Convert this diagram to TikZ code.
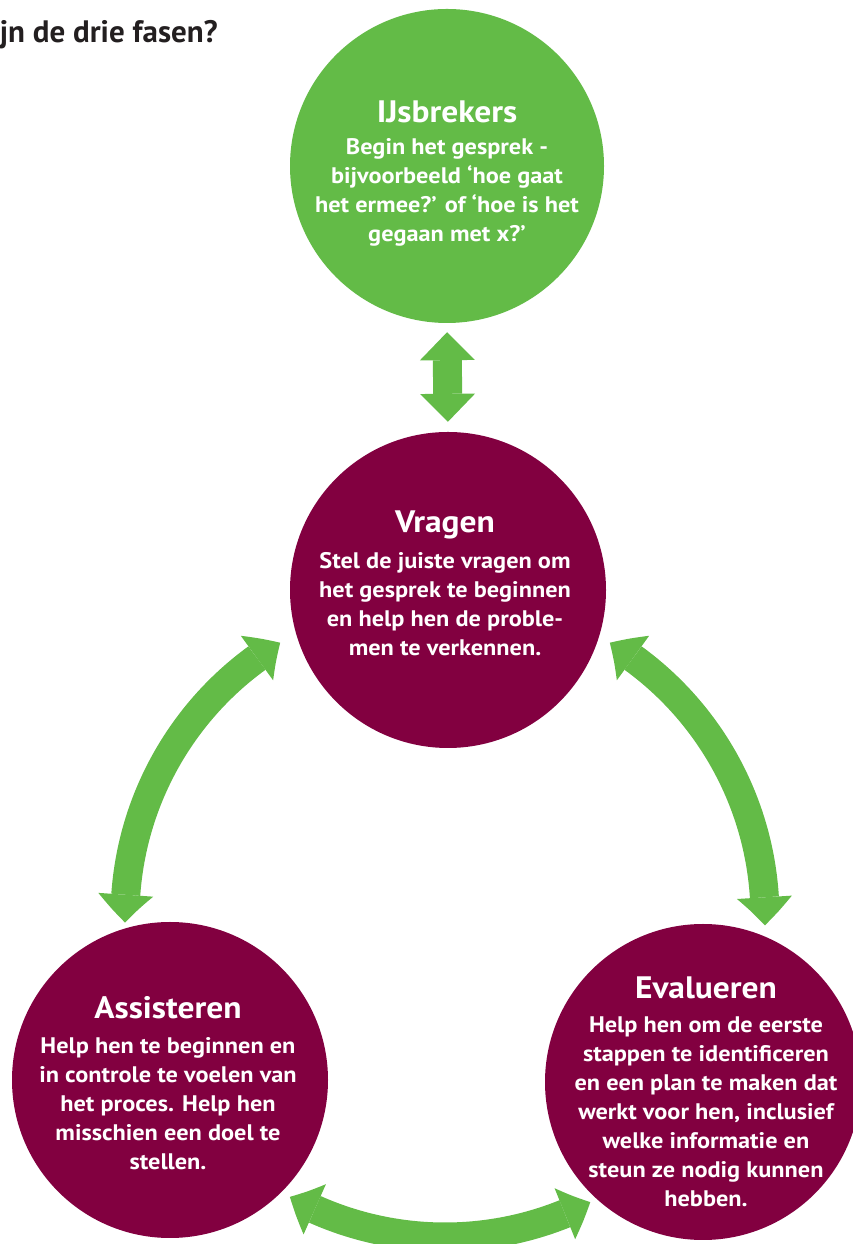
\documentclass[tikz,border=0pt]{standalone}
\usepackage{fontspec}
\setmainfont[FakeStretch=1.08]{PT Sans}
\newfontfamily\hdfont{PT Sans}
\usetikzlibrary{arrows.meta,bending}
\definecolor{grn}{HTML}{63BB47}
\definecolor{mar}{HTML}{820040}
\definecolor{hdr}{HTML}{231F20}
\tikzset{
  disc/.style={circle, inner sep=0pt, minimum size=316pt},
  greendisc/.style={disc, fill=grn},
  redisc/.style={disc, fill=mar},
  ttl/.style={text=white, font=\fontsize{31}{36}\selectfont\bfseries},
  bdy/.style={text=white, align=center, font=\fontsize{22.5}{29}\selectfont\bfseries},
  bigarrow/.style={draw=grn, line width=29pt, {Triangle[width=55pt,length=28pt,line width=0pt,bend]}-{Triangle[width=55pt,length=28pt,line width=0pt,bend]}},
}
\begin{document}
\begin{tikzpicture}[x=1pt,y=1pt]
\useasboundingbox (0,0) rectangle (852,1244);
% header
\node[anchor=base east, text=hdr, font=\hdfont\fontsize{31}{36}\selectfont\bfseries, inner sep=0pt] (hd) at (218,1201) {jn de drie fasen?};
% circles
\node[greendisc, minimum size=314pt] (ij) at (447,1078) {};
\node[redisc] (vr) at (448,654) {};
\node[redisc] (as) at (170,164) {};
\node[redisc] (ev) at (703,162) {};
% texts
\node[ttl] (ij-t) at (447,1132) {IJsbrekers};
\node[bdy] (ij-b) at (447,1051.5) {Begin het gesprek -\\bijvoorbeeld ‘hoe gaat\\het ermee?’ of ‘hoe is het\\gegaan met x?’};
\node[ttl] (vr-t) at (445,719) {Vragen};
\node[bdy] (vr-b) at (445,640) {Stel de juiste vragen om\\het gesprek te beginnen\\en help hen de proble-\\men te verkennen.};
\node[ttl] (as-t) at (168,236) {Assisteren};
\node[bdy] (as-b) at (168,140) {Help hen te beginnen en\\in controle te voelen van\\het proces. Help hen\\misschien een doel te\\stellen.};
\node[ttl] (ev-t) at (706,256) {Evalueren};
\node[bdy] (ev-b) at (706,132.5) {Help hen om de eerste\\stappen te identificeren\\en een plan te maken dat\\werkt voor hen, inclusief\\welke informatie en\\steun ze nodig kunnen\\hebben.};
% arrows
\draw[bigarrow, shorten <=9pt, shorten >=10pt] (ij.south) -- (vr.north);
\coordinate (C) at (445,327);
\coordinate (la) at ([shift={(121:320)}]C);
\coordinate (ra) at ([shift={(59:320)}]C);
\coordinate (ba) at ([shift={(241:320)}]C);
\draw[bigarrow] (la) arc[start angle=121, end angle=181, radius=320];
\draw[bigarrow] (ra) arc[start angle=59, end angle=-1.5, radius=320];
\draw[bigarrow] (ba) arc[start angle=241, end angle=297, radius=320];
\end{tikzpicture}
\end{document}
